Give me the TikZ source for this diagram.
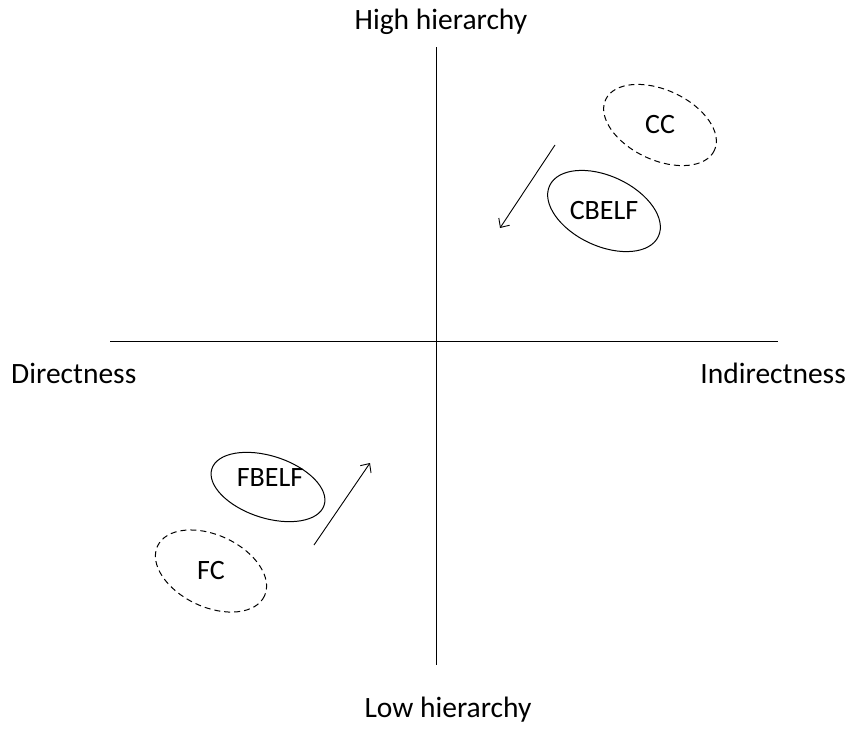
\documentclass[tikz,border=0pt]{standalone}
\usepackage{fontspec}
\setmainfont{Carlito}
\usepackage{tikz}
\usetikzlibrary{arrows.meta}

\begin{document}
\begin{tikzpicture}[x=1pt,y=-1pt,
  axislabel/.style={inner sep=0pt,anchor=base,font=\fontsize{29.5}{34}\selectfont},
  inlabel/.style={inner sep=0pt,font=\fontsize{28}{32}\selectfont},
  ring/.style={line width=1pt},
  dashring/.style={line width=1pt,dash pattern=on 6pt off 4pt},
  move/.style={line width=0.9pt,-{Straight Barb[length=7pt,width=13pt]}}]
\useasboundingbox (0,0) rectangle (848,731);
% axes
\coordinate (top) at (436,47);
\coordinate (bottom) at (436,665);
\coordinate (left) at (110,341);
\coordinate (right) at (778,341);
\draw [line width=0.8pt] (top) -- (bottom);
\draw [line width=0.8pt] (left) -- (right);
\node [axislabel] (high) at (441,29) {High hierarchy};
\node [axislabel] (low) at (448,717) {Low hierarchy};
\node [axislabel,anchor=base west] (dir) at (11,383) {Directness};
\node [axislabel,anchor=base east] (indir) at (846,383) {Indirectness};
% upper right
\node [inlabel] (cc) at (660,125) {CC};
\node [inlabel] (cbelf) at (604,211) {CBELF};
\draw [dashring,rotate around={-25:(cc)}] (cc) ellipse [x radius=60,y radius=35];
\draw [ring,rotate around={-25:(cbelf)}] (cbelf) ellipse [x radius=60,y radius=35];
\coordinate (ua) at (555,145);
\coordinate (ub) at (500,228);
\draw [move] (ua) -- (ub);
% lower left
\node [inlabel] (fbelf) at (270,478) {FBELF};
\node [inlabel] (fc) at (211,571) {FC};
\draw [ring,rotate around={-18:(268,487)}] (268,487) ellipse [x radius=59,y radius=31];
\draw [dashring,rotate around={-25:(fc)}] (fc) ellipse [x radius=59,y radius=36];
\coordinate (la) at (314,545);
\coordinate (lb) at (370,463);
\draw [move] (la) -- (lb);
\end{tikzpicture}
\end{document}
